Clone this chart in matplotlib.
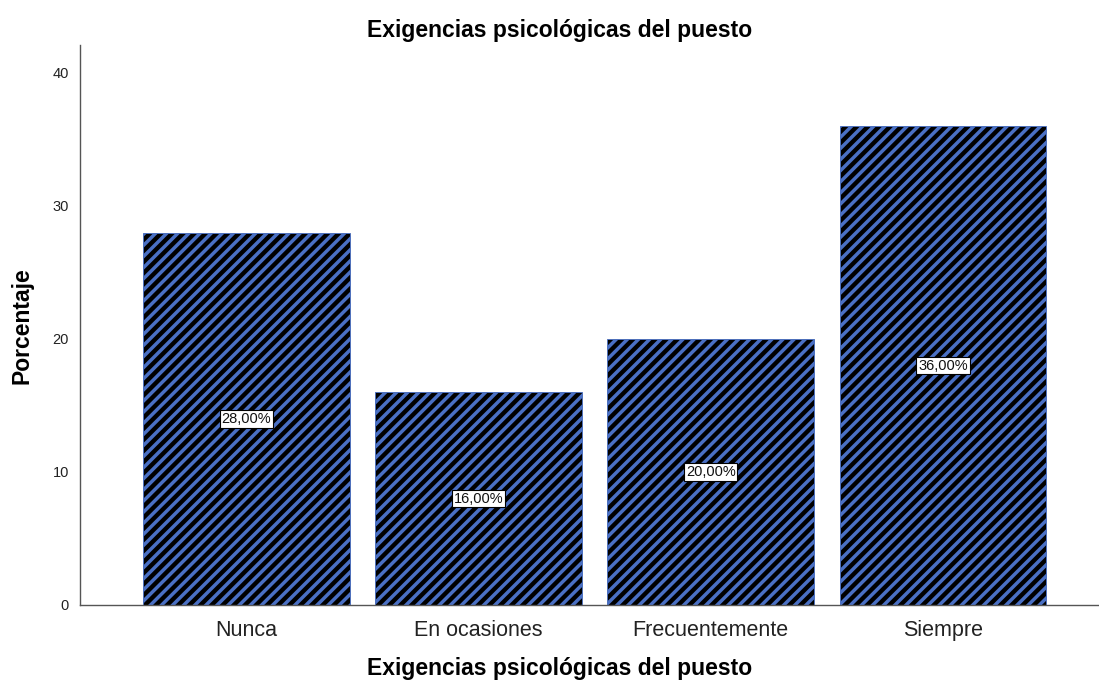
import matplotlib.pyplot as plt

plt.rcParams['font.family'] = ['Liberation Sans', 'DejaVu Sans']
plt.rcParams['hatch.linewidth'] = 2.5

categories = ['Nunca', 'En ocasiones', 'Frecuentemente', 'Siempre']
porcentajes = [28.0, 16.0, 20.0, 36.0]
etiquetas = ['28,00%', '16,00%', '20,00%', '36,00%']

fig = plt.figure(figsize=(10.99, 6.84), dpi=100)
ax = fig.add_axes([80 / 1099, 1 - 605 / 684, 1 - 80 / 1099, (605 - 45) / 684])

x = list(range(len(categories)))
ax.bar(x, porcentajes, width=0.89, color='black', edgecolor='#4a70c4',
       hatch='///', linewidth=0.6)

# etiquetas de porcentaje a media altura de cada barra
for xi, v, lab in zip(x, porcentajes, etiquetas):
    ax.text(xi, v / 2, lab, ha='center', va='center', fontsize=10.5,
            color='#111111',
            bbox=dict(boxstyle='square,pad=0.12', facecolor='white',
                      edgecolor='black', linewidth=0.8))

ax.set_xlim(-0.717, 3.672)
ax.set_ylim(0, 42.1)
ax.set_yticks([0, 10, 20, 30, 40])
ax.set_xticks(x)
ax.set_xticklabels(categories, fontsize=15.5, color='#222222')
ax.tick_params(axis='y', length=0, pad=8, labelsize=10.5, colors='#222222')
ax.tick_params(axis='x', length=0, pad=11)

for side in ['top', 'right']:
    ax.spines[side].set_visible(False)
for side in ['left', 'bottom']:
    ax.spines[side].set_color('#555555')
    ax.spines[side].set_linewidth(1.0)

fig.text(560 / 1099, 1 - 30 / 684, 'Exigencias psicológicas del puesto',
         ha='center', va='center', fontsize=16.5, fontweight='bold')
fig.text(560 / 1099, 1 - 668 / 684, 'Exigencias psicológicas del puesto',
         ha='center', va='center', fontsize=16.5, fontweight='bold')
fig.text(22 / 1099, 1 - 326 / 684, 'Porcentaje', ha='center', va='center',
         rotation=90, fontsize=16.5, fontweight='bold')

fig.savefig('out.png', dpi=100)
